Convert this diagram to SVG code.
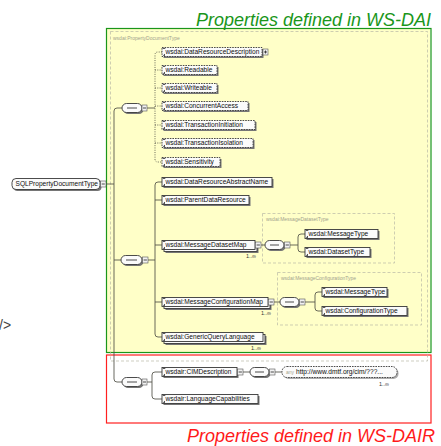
<svg xmlns="http://www.w3.org/2000/svg" width="441" height="446" viewBox="0 0 441 446">
  <defs>
    <style>
      .t { font-family: "Liberation Sans", Arial, sans-serif; font-size: 6.6px; fill: #0e0e0e; }
      .sh { fill: #767676; }
      .bx { fill: #fbfbfb; stroke: #383838; stroke-width: 0.9; }
      .opt .bx { stroke-dasharray: 1.6 1; }
      .mk { fill: #222; }
      .ic { fill: #f2f2f2; stroke: #555; stroke-width: 0.6; }
      .icl { stroke: #222; stroke-width: 0.8; fill: none; }
      .c { fill: none; stroke: #4f4f44; stroke-width: 0.85; }
      .d { stroke-dasharray: 1 1.3; }
      .tb { fill: none; stroke: #b9b9a6; stroke-width: 0.7; stroke-dasharray: 3 2; }
      .tl { font-family: "Liberation Sans", Arial, sans-serif; font-size: 5px; fill: #a3a38e; }
      .occ { font-family: "Liberation Sans", Arial, sans-serif; font-size: 5.5px; fill: #333; }
      .cap { font-family: "Liberation Sans", Arial, sans-serif; font-size: 18px; font-style: italic; }
    </style>
  </defs>

  <!-- page -->
  <rect x="0" y="0" width="441" height="446" fill="#ffffff"/>

  <!-- WS-DAI region -->
  <rect x="107" y="29" width="323" height="323" fill="#ffffc8"/>
  <rect x="106.5" y="28.5" width="324.5" height="324" fill="none" stroke="#1a961a" stroke-width="1.2"/>
  <text class="cap" x="431" y="26" text-anchor="end" fill="#1a961a">Properties defined in WS-DAI</text>

  <!-- WS-DAIR region -->
  <rect x="106.5" y="355" width="324.5" height="68" fill="none" stroke="#ff2020" stroke-width="1.2"/>
  <text class="cap" x="435" y="442" text-anchor="end" fill="#ff1a1a">Properties defined in WS-DAIR</text>

  <text x="-1" y="330" font-family="Liberation Sans, Arial, sans-serif" font-size="14" fill="#444">/&gt;</text>

  <!-- complex type frames -->
  <g id="type-frames">
    <rect class="tb" x="110.5" y="31.5" width="317" height="329.5"/>
    <text class="tl" x="113" y="40">wsdai:PropertyDocumentType</text>
    <rect class="tb" x="262.5" y="213.5" width="132" height="49.5"/>
    <text class="tl" x="266" y="221">wsdai:MessageDatasetType</text>
    <rect class="tb" x="277.5" y="272.5" width="144" height="52.5"/>
    <text class="tl" x="281" y="280">wsdai:MessageConfigurationType</text>
  </g>

  <!-- connectors -->
  <g id="connectors">
    <path class="c" d="M106 184 H114"/>
    <path class="c" d="M122 108 H117 Q114 108 114 111 V379 Q114 382 117 382 H122"/>
    <path class="c" d="M114 260 H121"/>
    <!-- optional properties -->
    <path class="c" d="M147 108 H155"/>
    <path class="c d" d="M162 52 H158 Q155 52 155 55 V159 Q155 162 158 162 H162"/>
    <path class="c d" d="M155 70 H162 M155 88 H162 M155 106 H162 M155 125 H162 M155 143 H162"/>
    <!-- required properties -->
    <path class="c" d="M148 260 H155"/>
    <path class="c" d="M162 182 H158 Q155 182 155 185 V334 Q155 337 158 337 H162"/>
    <path class="c" d="M155 200 H162 M155 245 H162 M155 302 H162"/>
    <!-- message dataset map -->
    <path class="c" d="M261 245 H265 M290 245 H298"/>
    <path class="c" d="M305 234 H301 Q298 234 298 237 V249 Q298 252 301 252 H305"/>
    <!-- message configuration map -->
    <path class="c" d="M274 302 H280 M305 302 H315"/>
    <path class="c" d="M322 292 H318 Q315 292 315 295 V308 Q315 311 318 311 H322"/>
    <!-- WS-DAIR properties -->
    <path class="c" d="M147 382 H152"/>
    <path class="c" d="M162 372 H155 Q152 372 152 375 V396 Q152 399 155 399 H162"/>
    <path class="c" d="M243 372 H250 M275 372 H282"/>
  </g>

  <!-- root -->
  <g id="n-root">
    <rect class="sh" x="13.5" y="180" width="88" height="11" rx="4"/>
    <rect class="bx" x="12" y="178.5" width="88" height="11" rx="4"/>
    <text class="t" x="15.5" y="186.4" font-size="6.3">SQLPropertyDocumentType</text>
    <rect class="ic" x="100.5" y="181" width="5.5" height="6"/>
    <path class="icl" d="M101.7 184 H104.8"/>
  </g>

  <!-- sequence compositors -->
  <g id="seq-1">
    <rect class="sh" x="123.5" y="105" width="20" height="9" rx="4.5"/>
    <rect class="bx" x="122" y="103.5" width="20" height="9" rx="4.5"/>
    <path class="icl" d="M127 108 H137"/>
    <rect class="ic" x="142" y="105" width="5" height="6"/>
    <path class="icl" d="M143 108 H146"/>
  </g>
  <g id="seq-2">
    <rect class="sh" x="122.5" y="257" width="21" height="9" rx="4.5"/>
    <rect class="bx" x="121" y="255.5" width="21" height="9" rx="4.5"/>
    <path class="icl" d="M126 260 H137"/>
    <rect class="ic" x="142.5" y="257" width="5.5" height="6"/>
    <path class="icl" d="M143.6 260 H146.9"/>
  </g>
  <g id="seq-3">
    <rect class="sh" x="123.5" y="379" width="20" height="9" rx="4.5"/>
    <rect class="bx" x="122" y="377.5" width="20" height="9" rx="4.5"/>
    <path class="icl" d="M127 382 H137"/>
    <rect class="ic" x="142" y="379" width="5" height="6"/>
    <path class="icl" d="M143 382 H146"/>
  </g>
  <g id="seq-4">
    <rect class="sh" x="266.5" y="242" width="19" height="9" rx="4.5"/>
    <rect class="bx" x="265" y="240.5" width="19" height="9" rx="4.5"/>
    <path class="icl" d="M270 245 H279"/>
    <rect class="ic" x="284.5" y="242" width="5.5" height="6"/>
    <path class="icl" d="M285.6 245 H288.9"/>
  </g>
  <g id="seq-5">
    <rect class="sh" x="281.5" y="299" width="19" height="9" rx="4.5"/>
    <rect class="bx" x="280" y="297.5" width="19" height="9" rx="4.5"/>
    <path class="icl" d="M285 302 H294"/>
    <rect class="ic" x="299.5" y="299" width="5.5" height="6"/>
    <path class="icl" d="M300.6 302 H303.9"/>
  </g>
  <g id="seq-6">
    <rect class="sh" x="251.5" y="369" width="19" height="9" rx="4.5"/>
    <rect class="bx" x="250" y="367.5" width="19" height="9" rx="4.5"/>
    <path class="icl" d="M255 372 H264"/>
    <rect class="ic" x="269.5" y="369" width="5.5" height="6"/>
    <path class="icl" d="M270.6 372 H273.9"/>
  </g>

  <!-- optional WS-DAI properties -->
  <g id="n-data-resource-description" class="opt">
    <rect class="sh" x="163.5" y="49" width="100" height="9"/>
    <rect class="bx" x="162" y="47.5" width="100" height="9"/>
    <path class="mk" d="M162.8 48.3 h2.5 v0.8 h-2.5z M162.8 55.7 l2.2 -2 v2z"/>
    <text class="t" x="165.5" y="54.4">wsdai:DataResourceDescription</text>
    <rect class="ic" x="263" y="49" width="5" height="6"/>
    <path class="icl" d="M264 52 H267 M265.5 50.5 V53.5"/>
  </g>
  <g id="n-readable" class="opt">
    <rect class="sh" x="163.5" y="67" width="55" height="9"/>
    <rect class="bx" x="162" y="65.5" width="55" height="9"/>
    <path class="mk" d="M162.8 66.3 h2.5 v0.8 h-2.5z M162.8 73.7 l2.2 -2 v2z"/>
    <text class="t" x="165.5" y="72.4">wsdai:Readable</text>
  </g>
  <g id="n-writeable" class="opt">
    <rect class="sh" x="163.5" y="85" width="55" height="9"/>
    <rect class="bx" x="162" y="83.5" width="55" height="9"/>
    <path class="mk" d="M162.8 84.3 h2.5 v0.8 h-2.5z M162.8 91.7 l2.2 -2 v2z"/>
    <text class="t" x="165.5" y="90.4">wsdai:Writeable</text>
  </g>
  <g id="n-concurrent-access" class="opt">
    <rect class="sh" x="163.5" y="103" width="86" height="9"/>
    <rect class="bx" x="162" y="101.5" width="86" height="9"/>
    <path class="mk" d="M162.8 102.3 h2.5 v0.8 h-2.5z M162.8 109.7 l2.2 -2 v2z"/>
    <text class="t" x="165.5" y="108.4">wsdai:ConcurrentAccess</text>
  </g>
  <g id="n-transaction-initiation" class="opt">
    <rect class="sh" x="163.5" y="122" width="93" height="9"/>
    <rect class="bx" x="162" y="120.5" width="93" height="9"/>
    <path class="mk" d="M162.8 121.3 h2.5 v0.8 h-2.5z M162.8 128.7 l2.2 -2 v2z"/>
    <text class="t" x="165.5" y="127.4">wsdai:TransactionInitiation</text>
  </g>
  <g id="n-transaction-isolation" class="opt">
    <rect class="sh" x="163.5" y="140" width="91" height="9"/>
    <rect class="bx" x="162" y="138.5" width="91" height="9"/>
    <path class="mk" d="M162.8 139.3 h2.5 v0.8 h-2.5z M162.8 146.7 l2.2 -2 v2z"/>
    <text class="t" x="165.5" y="145.4">wsdai:TransactionIsolation</text>
  </g>
  <g id="n-sensitivity" class="opt">
    <rect class="sh" x="163.5" y="159" width="58" height="9"/>
    <rect class="bx" x="162" y="157.5" width="58" height="9"/>
    <path class="mk" d="M162.8 158.3 h2.5 v0.8 h-2.5z M162.8 165.7 l2.2 -2 v2z"/>
    <text class="t" x="165.5" y="164.4">wsdai:Sensitivity</text>
  </g>

  <!-- required WS-DAI properties -->
  <g id="n-data-resource-abstract-name">
    <rect class="sh" x="163.5" y="179" width="110" height="9"/>
    <rect class="bx" x="162" y="177.5" width="110" height="9"/>
    <path class="mk" d="M162.8 178.3 h2.5 v0.8 h-2.5z M162.8 185.7 l2.2 -2 v2z"/>
    <text class="t" x="165.5" y="184.4">wsdai:DataResourceAbstractName</text>
  </g>
  <g id="n-parent-data-resource">
    <rect class="sh" x="163.5" y="197" width="87" height="9"/>
    <rect class="bx" x="162" y="195.5" width="87" height="9"/>
    <path class="mk" d="M162.8 196.3 h2.5 v0.8 h-2.5z M162.8 203.7 l2.2 -2 v2z"/>
    <text class="t" x="165.5" y="202.4">wsdai:ParentDataResource</text>
  </g>
  <g id="n-message-dataset-map">
    <rect class="sh" x="165.5" y="244" width="93" height="9"/>
    <rect class="bx" x="164" y="242.5" width="93" height="9"/>
    <rect class="bx" x="162" y="240.5" width="93" height="9"/>
    <path class="mk" d="M162.8 241.3 h2.5 v0.8 h-2.5z M162.8 248.7 l2.2 -2 v2z"/>
    <text class="t" x="165.5" y="247.4">wsdai:MessageDatasetMap</text>
    <rect class="ic" x="255.5" y="242" width="5.5" height="6"/>
    <path class="icl" d="M256.6 245 H259.9"/>
    <text class="occ" x="246" y="258">1..∞</text>
  </g>
  <g id="n-message-configuration-map">
    <rect class="sh" x="165.5" y="301" width="106" height="9"/>
    <rect class="bx" x="164" y="299.5" width="106" height="9"/>
    <rect class="bx" x="162" y="297.5" width="106" height="9"/>
    <path class="mk" d="M162.8 298.3 h2.5 v0.8 h-2.5z M162.8 305.7 l2.2 -2 v2z"/>
    <text class="t" x="165.5" y="304.4">wsdai:MessageConfigurationMap</text>
    <rect class="ic" x="268.5" y="299" width="5.5" height="6"/>
    <path class="icl" d="M269.6 302 H272.9"/>
    <text class="occ" x="261" y="315">1..∞</text>
  </g>
  <g id="n-generic-query-language">
    <rect class="sh" x="165.5" y="336" width="101" height="9"/>
    <rect class="bx" x="164" y="334.5" width="101" height="9"/>
    <rect class="bx" x="162" y="332.5" width="101" height="9"/>
    <path class="mk" d="M162.8 333.3 h2.5 v0.8 h-2.5z M162.8 340.7 l2.2 -2 v2z"/>
    <text class="t" x="165.5" y="339.4">wsdai:GenericQueryLanguage</text>
    <text class="occ" x="251" y="350">1..∞</text>
  </g>

  <!-- wsdai:MessageDatasetType content -->
  <g id="n-dataset-message-type">
    <rect class="sh" x="306.5" y="231" width="73" height="9"/>
    <rect class="bx" x="305" y="229.5" width="73" height="9"/>
    <path class="mk" d="M305.8 230.3 h2.5 v0.8 h-2.5z M305.8 237.7 l2.2 -2 v2z"/>
    <text class="t" x="308.5" y="236.4">wsdai:MessageType</text>
  </g>
  <g id="n-dataset-type">
    <rect class="sh" x="306.5" y="249" width="65" height="9"/>
    <rect class="bx" x="305" y="247.5" width="65" height="9"/>
    <path class="mk" d="M305.8 248.3 h2.5 v0.8 h-2.5z M305.8 255.7 l2.2 -2 v2z"/>
    <text class="t" x="308.5" y="254.4">wsdai:DatasetType</text>
  </g>

  <!-- wsdai:MessageConfigurationType content -->
  <g id="n-config-message-type">
    <rect class="sh" x="323.5" y="289" width="65" height="9"/>
    <rect class="bx" x="322" y="287.5" width="65" height="9"/>
    <path class="mk" d="M322.8 288.3 h2.5 v0.8 h-2.5z M322.8 295.7 l2.2 -2 v2z"/>
    <text class="t" x="325.5" y="294.4">wsdai:MessageType</text>
  </g>
  <g id="n-configuration-type">
    <rect class="sh" x="323.5" y="308" width="85" height="9"/>
    <rect class="bx" x="322" y="306.5" width="85" height="9"/>
    <path class="mk" d="M322.8 307.3 h2.5 v0.8 h-2.5z M322.8 314.7 l2.2 -2 v2z"/>
    <text class="t" x="325.5" y="313.4">wsdai:ConfigurationType</text>
  </g>

  <!-- WS-DAIR properties -->
  <g id="n-cim-description">
    <rect class="sh" x="163.5" y="369" width="75" height="9"/>
    <rect class="bx" x="162" y="367.5" width="75" height="9"/>
    <path class="mk" d="M162.8 368.3 h2.5 v0.8 h-2.5z M162.8 375.7 l2.2 -2 v2z"/>
    <text class="t" x="165.5" y="374.4">wsdair:CIMDescription</text>
    <rect class="ic" x="237.5" y="369" width="5.5" height="6"/>
    <path class="icl" d="M238.6 372 H241.9"/>
  </g>
  <g id="n-language-capabilities">
    <rect class="sh" x="163.5" y="396" width="96" height="9"/>
    <rect class="bx" x="162" y="394.5" width="96" height="9"/>
    <path class="mk" d="M162.8 395.3 h2.5 v0.8 h-2.5z M162.8 402.7 l2.2 -2 v2z"/>
    <text class="t" x="165.5" y="401.4">wsdair:LanguageCapabilities</text>
  </g>
  <g id="n-any-cim" class="opt">
    <rect class="sh" x="283.5" y="368" width="115" height="11" rx="5" opacity="0.6"/>
    <rect class="bx" x="282" y="366.5" width="115" height="11" rx="5"/>
    <text class="tl" x="286" y="374">any</text>
    <text class="t" x="296" y="374.3">http://www.dmtf.org/cim/???...</text>
    <text class="occ" x="379" y="386">1..∞</text>
  </g>
</svg>
